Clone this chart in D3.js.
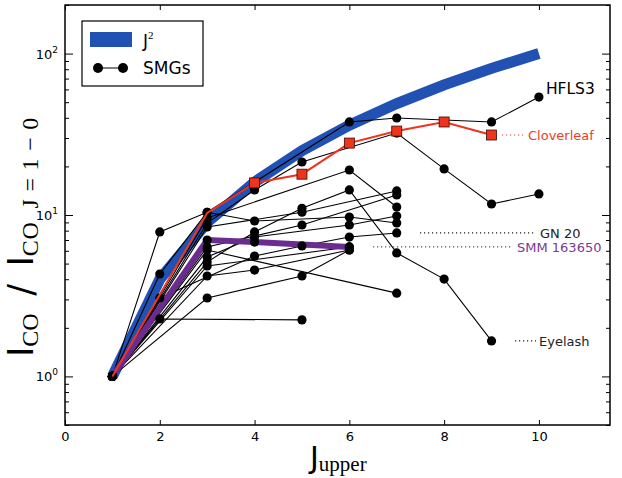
<!DOCTYPE html>
<html><head><meta charset="utf-8">
<script src="https://cdn.jsdelivr.net/npm/d3@7"></script>
<style>body{margin:0;background:#fff}svg{display:block}text{font-family:"DejaVu Sans",sans-serif}</style>
</head><body><svg id="c" width="622" height="478"></svg>
<script>
// ---- data ----
const jGrid = [1,2,3,4,5,6,7,8,9,10];
const j2Values = [1,4,9,16,25,36,49,64,81,100];
const xTicks = [0,2,4,6,8,10];
const yMajor = [1,10,100];
const yTickLabels = ["10^0","10^1","10^2"];

const hfls3     = [[1,1],[2,4.31],[3,10.4],[6,37.7],[7,39.9],[9,37.7],[10,53.8]];
const cloverleaf= [[1,1],[3,10.3],[4,15.8],[5,17.9],[6,27.9],[7,33.1],[8,37.7],[9,31.3]];
const smm163650 = [[1,1],[3,7.0],[4,6.8],[6,6.34]];
const eyelash   = [[1,1],[3,5.11],[4,7.85],[5,11.0],[6,14.3],[7,5.82],[8,4.01],[9,1.66]];
const gn20      = [[1,1],[2,3.06],[4,5.57],[5,6.43],[6,7.30],[7,7.74]];
const smgA = [[1,1],[3,8.92],[4,14.3],[5,21.3],[7,32.2],[8,19.3],[9,11.7],[10,13.5]];
const smgB = [[1,1],[3,9.58],[6,19.0],[7,11.2]];
const smgC = [[1,1],[2,7.85],[3,10.4],[4,9.18],[6,9.72],[7,8.92]];
const smgD = [[1,1],[3,8.43],[5,10.4],[7,14.1]];
const smgE = [[1,1],[3,6.34],[5,8.67],[7,13.3]];
const smgF = [[1,1],[3,5.49],[4,7.30],[6,8.67],[7,9.86]];
const smgG = [[1,1],[3,6.07],[7,3.28]];
const smgH = [[1,1],[3,4.19],[4,4.56],[6,6.07]];
const smgI = [[1,1],[3,3.06],[5,4.19],[6,6.07]];
const smgJ = [[1,1],[2,2.27],[5,2.24]];
const smgK = [[1,1],[3,4.83],[6,6.34]];
const blackSeries = [hfls3, eyelash, gn20, smm163650, smgA, smgB, smgC, smgD, smgE, smgF, smgG, smgH, smgI, smgJ, smgK];

// ---- layout ----
const L=65, R=610, T=5, B=425;
const x = d3.scaleLinear().domain([0,11.5]).range([L,R]);
const y = d3.scaleLog().domain([0.5,200]).range([B,T]);
const svg = d3.select("#c");
const line = d3.line().x(d=>x(d[0])).y(d=>y(d[1]));
const SERIF = "Liberation Serif, DejaVu Serif, serif";

// J^2 band
svg.append("path").datum(jGrid.map((j,i)=>[j,j2Values[i]]))
  .attr("d",line).attr("fill","none").attr("stroke","#2152b3").attr("stroke-width",11);

// black SMG lines
svg.append("g").selectAll("path").data(blackSeries).join("path")
  .attr("d",line).attr("fill","none").attr("stroke","#000").attr("stroke-width",1.1);

// purple SMM 163650
svg.append("path").datum(smm163650).attr("d",line).attr("fill","none")
  .attr("stroke","#6c2c8f").attr("stroke-width",6);

// dots
const dots = blackSeries.flatMap(s=>s);
svg.append("g").selectAll("circle").data(dots).join("circle")
  .attr("cx",d=>x(d[0])).attr("cy",d=>y(d[1])).attr("r",4.6).attr("fill","#000");

// Cloverleaf red
svg.append("path").datum(cloverleaf).attr("d",line).attr("fill","none")
  .attr("stroke","#f0331c").attr("stroke-width",2);
svg.append("g").selectAll("rect").data(cloverleaf.slice(2)).join("rect")
  .attr("x",d=>x(d[0])-5).attr("y",d=>y(d[1])-5).attr("width",10).attr("height",10)
  .attr("fill","#f0331c").attr("stroke","#3a0a05").attr("stroke-width",0.8);

// axes frame
svg.append("rect").attr("x",L).attr("y",T).attr("width",R-L).attr("height",B-T)
  .attr("fill","none").attr("stroke","#000").attr("stroke-width",1.5);

const gx = svg.append("g").attr("transform",`translate(0,${B})`)
  .call(d3.axisBottom(x).tickValues(xTicks).tickSize(-5).tickPadding(7).tickFormat(d3.format("d")));
svg.append("g").attr("transform",`translate(0,${T})`)
  .call(d3.axisTop(x).tickValues(xTicks).tickSize(-5).tickFormat(""));
const minor = [];
for (let e=-1;e<=2;e++) for (let m=2;m<=9;m++){const v=m*Math.pow(10,e); if(v>=0.5&&v<=200) minor.push(v);}
svg.append("g").attr("transform",`translate(${L},0)`)
  .call(d3.axisLeft(y).tickValues(yMajor).tickSize(-8).tickFormat(""));
svg.append("g").attr("transform",`translate(${L},0)`)
  .call(d3.axisLeft(y).tickValues(minor).tickSize(-4).tickFormat(""));
svg.append("g").attr("transform",`translate(${R},0)`)
  .call(d3.axisRight(y).tickValues(yMajor).tickSize(-8).tickFormat(""));
svg.append("g").attr("transform",`translate(${R},0)`)
  .call(d3.axisRight(y).tickValues(minor).tickSize(-4).tickFormat(""));
svg.selectAll(".domain").remove();
svg.selectAll(".tick line").attr("stroke","#000").attr("stroke-width",1);
gx.selectAll("text").attr("font-size",13).attr("fill","#000").attr("font-family","DejaVu Sans");

// y tick labels with superscripts
yMajor.forEach((v,i)=>{
  const [base,exp] = yTickLabels[i].split("^");
  const t = svg.append("text").attr("x",L-7).attr("y",y(v)+5).attr("text-anchor","end")
    .attr("font-size",13).attr("fill","#000");
  t.append("tspan").text(base);
  t.append("tspan").attr("dy",-6).attr("font-size",9).text(exp);
});

// axis titles
const xl = svg.append("text").attr("x",310).attr("y",468).attr("fill","#000");
xl.append("tspan").attr("font-size",30).attr("font-family","DejaVu Sans").text("J");
xl.append("tspan").attr("font-size",21).attr("font-family",SERIF).attr("dy",3).text("upper");

const yl = svg.append("text").attr("transform","translate(33,357) rotate(-90)").attr("fill","#000");
yl.append("tspan").attr("font-size",35).text("I");
yl.append("tspan").attr("font-size",24).attr("font-family",SERIF).attr("dy",5).text("CO");
yl.append("tspan").attr("font-size",35).attr("dy",-5).text("\u2002/\u2002I");
yl.append("tspan").attr("font-size",24).attr("font-family",SERIF).attr("dy",5)
  .attr("letter-spacing",0.8).text("CO\u2002J = 1 \u2212 0");

// legend
svg.append("rect").attr("x",82).attr("y",21).attr("width",121).attr("height",65)
  .attr("fill","#fff").attr("stroke","#000").attr("stroke-width",1.2);
svg.append("rect").attr("x",90).attr("y",32).attr("width",42).attr("height",15).attr("fill","#2152b3");
const lj = svg.append("text").attr("x",143).attr("y",47).attr("font-size",17).attr("fill","#000");
lj.append("tspan").text("J");
lj.append("tspan").attr("dy",-8).attr("font-size",11).attr("font-family",SERIF).text("2");
svg.append("line").attr("x1",98).attr("x2",123).attr("y1",68).attr("y2",68).attr("stroke","#000");
[98,123].forEach(cx=>svg.append("circle").attr("cx",cx).attr("cy",68).attr("r",5).attr("fill","#000"));
svg.append("text").attr("x",143).attr("y",74).attr("font-size",17).attr("fill","#000").text("SMGs");

// source labels
const last = s=>s[s.length-1];
svg.append("text").attr("x",x(last(hfls3)[0])+7).attr("y",y(last(hfls3)[1])-3)
  .attr("font-size",15.5).attr("fill","#000").text("HFLS3");
function tag(s, name, color, x0, x1, tx){
  const p = last(s), yy = y(p[1]);
  svg.append("line").attr("x1",x0).attr("x2",x1).attr("y1",yy).attr("y2",yy)
    .attr("stroke",color).attr("stroke-width",1.2).attr("stroke-dasharray","1.2,2.8");
  svg.append("text").attr("x",tx).attr("y",yy+5).attr("font-size",13).attr("fill",color).text(name);
}
tag(cloverleaf,"Cloverleaf","#e8402c",502,523,528);
tag(gn20,"GN 20","#222",420,536,540);
tag(smm163650,"SMM 163650","#7a3a94",373,513,517);
tag(eyelash,"Eyelash","#222",515,536,539);
</script></body></html>
